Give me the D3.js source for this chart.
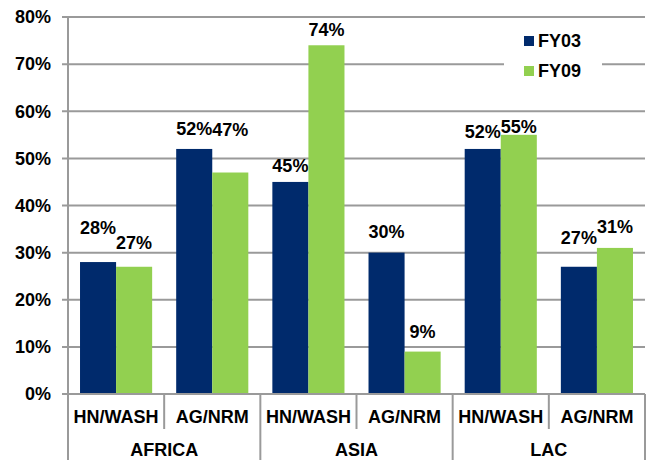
<!DOCTYPE html>
<html>
<head>
<meta charset="utf-8">
<script src="https://cdn.jsdelivr.net/npm/d3@7"></script>
<style>
  body { margin: 0; background: #fff; }
  text { font-family: "Liberation Sans", Arial, sans-serif; font-weight: bold; fill: #000; }
</style>
</head>
<body>
<div id="viz"></div>
<script>
// data
const regions = ['AFRICA', 'ASIA', 'LAC']
const sectors = ['HN/WASH', 'AG/NRM']
const series = ['FY03', 'FY09']
const fy03 = [28, 52, 45, 30, 52, 27]
const fy09 = [27, 47, 74, 9, 55, 31]
const yTicks = [0, 10, 20, 30, 40, 50, 60, 70, 80]

// label lift above bar top (px), hand placed like the original
const liftFY03 = [34, 20, 16, 21, 17, 29]
const liftFY09 = [24, 43, 16, 20, 8, 21]

const colors = { FY03: '#002A6C', FY09: '#92D050' }

let width = 650,
    height = 460;

let plotLeft = 68, plotRight = 645, plotTop = 17, plotBottom = 394
const fs = '18px'

// category keys
const cats = []
regions.forEach(r => sectors.forEach(s => cats.push(r + '|' + s)))

const rows = []
cats.forEach((c, i) => {
  rows.push({ cat: c, key: 'FY03', value: fy03[i], lift: liftFY03[i] })
  rows.push({ cat: c, key: 'FY09', value: fy09[i], lift: liftFY09[i] })
})

let yScale = d3.scaleLinear()
                .domain([0, 80])
                .range([plotBottom, plotTop])

let x0 = d3.scaleBand()
            .domain(cats)
            .range([plotLeft, plotRight])
            .padding(0)

let x1 = d3.scaleBand()
            .domain(series)
            .range([0, x0.bandwidth()])
            .paddingInner(0)
            .paddingOuter(1 / 3)

let xRegion = d3.scaleBand()
            .domain(regions)
            .range([plotLeft, plotRight])

let svg = d3.select('#viz')
            .append('svg')
            .attr('width', width)
            .attr('height', height)

const grey = '#9a9a9a'

// gridlines + ticks
svg.selectAll('line.grid')
   .data(yTicks)
   .enter()
   .append('line')
     .attr('x1', plotLeft - 6)
     .attr('x2', plotRight)
     .attr('y1', d => yScale(d))
     .attr('y2', d => yScale(d))
     .style('stroke', grey)
     .style('stroke-width', 2)

// y labels
svg.selectAll('text.ylab')
   .data(yTicks)
   .enter()
   .append('text')
     .attr('x', 51)
     .attr('y', d => yScale(d))
     .attr('dy', '0.35em')
     .attr('text-anchor', 'end')
     .style('font-size', fs)
     .text(d => d + '%')

// left axis line, runs through the category label area
svg.append('line')
   .attr('x1', plotLeft).attr('x2', plotLeft)
   .attr('y1', plotTop).attr('y2', height)
   .style('stroke', grey)
   .style('stroke-width', 2)

// legend box (covers gridlines)
svg.append('rect')
   .attr('x', 504).attr('y', 28)
   .attr('width', 98).attr('height', 56)
   .style('fill', '#fff')

series.forEach((s, i) => {
  svg.append('rect')
     .attr('x', 524)
     .attr('y', 36 + i * 30)
     .attr('width', 10)
     .attr('height', 10)
     .style('fill', colors[s])
  svg.append('text')
     .attr('x', 538)
     .attr('y', 41 + i * 30)
     .attr('dy', '0.35em')
     .style('font-size', fs)
     .text(s)
})

// bars
svg.selectAll('rect.bar')
   .data(rows)
   .enter()
   .append('rect')
     .attr('class', 'bar')
     .attr('x', d => x0(d.cat) + x1(d.key))
     .attr('width', x1.bandwidth())
     .attr('y', d => yScale(d.value))
     .attr('height', d => plotBottom - yScale(d.value))
     .style('fill', d => colors[d.key])

// value labels
svg.selectAll('text.val')
   .data(rows)
   .enter()
   .append('text')
     .attr('x', d => x0(d.cat) + x1(d.key) + x1.bandwidth() / 2)
     .attr('y', d => yScale(d.value) - d.lift)
     .attr('dy', '0.35em')
     .attr('text-anchor', 'middle')
     .style('font-size', fs)
     .text(d => d.value + '%')

// baseline
svg.append('line')
   .attr('x1', plotLeft - 6).attr('x2', plotRight)
   .attr('y1', plotBottom).attr('y2', plotBottom)
   .style('stroke', grey)
   .style('stroke-width', 2)

// category separators: inner short, region long
cats.forEach((c, i) => {
  if (i === 0) return
  const isRegion = i % sectors.length === 0
  svg.append('line')
     .attr('x1', x0(c)).attr('x2', x0(c))
     .attr('y1', plotBottom).attr('y2', isRegion ? height : 429)
     .style('stroke', grey)
     .style('stroke-width', 2)
})
svg.append('line')
   .attr('x1', plotRight).attr('x2', plotRight)
   .attr('y1', plotBottom).attr('y2', height)
   .style('stroke', grey)
   .style('stroke-width', 2)

// sector labels
svg.selectAll('text.sec')
   .data(cats)
   .enter()
   .append('text')
     .attr('x', d => x0(d) + x0.bandwidth() / 2)
     .attr('y', 417)
     .attr('dy', '0.35em')
     .attr('text-anchor', 'middle')
     .style('font-size', fs)
     .text(d => d.split('|')[1])

// region labels
svg.selectAll('text.reg')
   .data(regions)
   .enter()
   .append('text')
     .attr('x', d => xRegion(d) + xRegion.bandwidth() / 2)
     .attr('y', 450)
     .attr('dy', '0.35em')
     .attr('text-anchor', 'middle')
     .style('font-size', fs)
     .text(d => d)
</script>
</body>
</html>
